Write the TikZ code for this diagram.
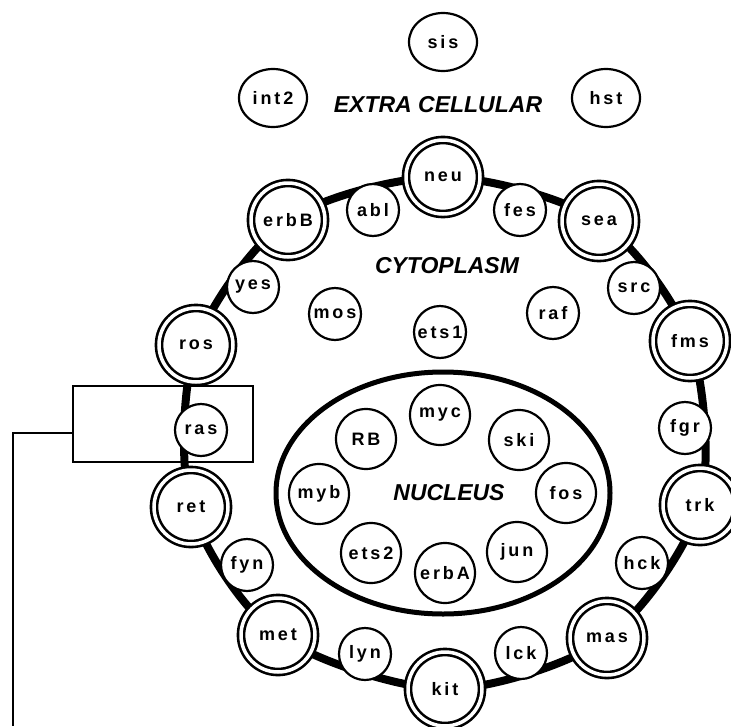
\documentclass[tikz,border=0pt]{standalone}
\usepackage{fontspec}
\setmainfont{Liberation Sans}
\newfontfamily\genefont[LetterSpace=16]{Liberation Sans}
\usetikzlibrary{backgrounds,shapes.geometric}

\begin{document}
\begin{tikzpicture}[x=1pt,y=-1pt,
		gene/.style={circle,draw,line width=2.2pt,fill=white,inner sep=0pt,minimum size=52pt,font=\genefont\bfseries\fontsize{18}{20}\selectfont},
		nucgene/.style={gene,minimum size=60pt},
		outgene/.style={gene,ellipse,minimum width=68pt,minimum height=58pt},
		receptor/.style={gene,double,line width=2.6pt,double distance=3.5pt,minimum size=74pt},
		compartment/.style={font=\bfseries\itshape\fontsize{23}{27}\selectfont},
		membrane/.style={line width=8pt}]
		
		\useasboundingbox (0,0) rectangle (731,726);
		
		%Extra cellular genes
		\node[outgene] (sis) at (443,42) {sis};
		\node[outgene] (int2) at (273,98) {int2};
		\node[outgene] (hst) at (606,98) {hst};
		\node[compartment] (extra) at (438,105) {EXTRA CELLULAR};
		
		%Genes sitting on the membrane
		\node[receptor] (neu) at (443,177) {neu};
		\node[receptor] (sea) at (599,221) {sea};
		\node[receptor] (fms) at (690,341) {fms};
		\node[receptor] (trk) at (700,505) {trk};
		\node[receptor] (mas) at (607,638) {mas};
		\node[receptor] (kit) at (445,689) {kit};
		\node[receptor] (met) at (278,635) {met};
		\node[receptor] (ret) at (191,507) {ret};
		\node[receptor] (ros) at (196,345) {ros};
		\node[receptor] (erbB) at (288,220) {erbB};
		
		%Drawing the membrane
		\begin{scope}[on background layer]
			\draw[membrane] plot[smooth cycle] coordinates {(neu.center) (sea.center) (fms.center) (trk.center) (mas.center) (kit.center) (met.center) (ret.center) (ros.center) (erbB.center)};
		\end{scope}
		
		%Genes just inside the membrane
		\node[gene] (abl) at (373,210) {abl};
		\node[gene] (fes) at (520,210) {fes};
		\node[gene] (src) at (634,288) {src};
		\node[gene] (fgr) at (685,428) {fgr};
		\node[gene] (hck) at (642,563) {hck};
		\node[gene] (lck) at (521,653) {lck};
		\node[gene] (lyn) at (365,654) {lyn};
		\node[gene] (fyn) at (247,565) {fyn};
		\node[gene] (ras) at (201,430) {ras};
		\node[gene] (yes) at (253,287) {yes};
		
		%Cytoplasm
		\node[compartment] (cyto) at (447,266) {CYTOPLASM};
		\node[gene] (mos) at (335,314) {mos};
		\node[gene] (ets1) at (440,332) {ets1};
		\node[gene] (raf) at (553,313) {raf};
		
		%Nucleus
		\draw[line width=5pt] (443,493) ellipse [x radius=167, y radius=121];
		\node[compartment] (nuc) at (449,493) {NUCLEUS};
		\node[nucgene] (myc) at (440,415) {myc};
		\node[nucgene] (ski) at (519,440) {ski};
		\node[nucgene] (fos) at (566,493) {fos};
		\node[nucgene] (jun) at (517,552) {jun};
		\node[nucgene] (erbA) at (445,573) {erbA};
		\node[nucgene] (ets2) at (371,553) {ets2};
		\node[nucgene] (myb) at (319,494) {myb};
		\node[nucgene] (RB) at (366,439) {RB};
		
		%Box round ras and its lead
		\draw[line width=1.5pt] (73,386) rectangle (253,462);
		\coordinate (box) at (73,433);
		\coordinate (lead) at (13,726);
		\draw[line width=2pt] (box) -| (lead);
	\end{tikzpicture}
\end{document}
